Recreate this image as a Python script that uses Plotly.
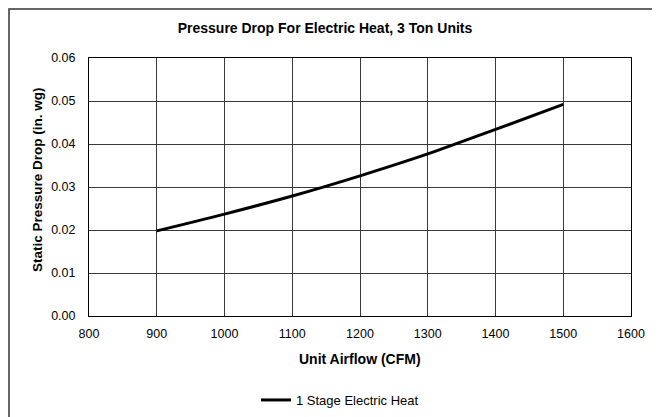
import plotly.graph_objects as go

airflow_cfm = [900, 1000, 1100, 1200, 1300, 1400, 1500]
pressure_drop = [0.0198, 0.0237, 0.0279, 0.0326, 0.0377, 0.0434, 0.0492]
series_name = "1 Stage Electric Heat"
x_ticks = [800, 900, 1000, 1100, 1200, 1300, 1400, 1500, 1600]
y_ticks = [0.00, 0.01, 0.02, 0.03, 0.04, 0.05, 0.06]

# page body has an 8px default margin; size the figure to fit the window
OFF = 8
W, H = 660 - OFF, 417 - OFF
# plot box in screen pixels: left 89, right 631, top 58, bottom 316
L = 89 - OFF
T = 58 - OFF
R = W - (631 - OFF)
B = H - (316 - OFF)
pw, ph = W - L - R, H - T - B

def px_x(p):
    return (p - OFF - L) / pw

def px_y(p):
    return (H - B - (p - OFF)) / ph

font = "Liberation Sans, Arial, sans-serif"

fig = go.Figure()
fig.add_trace(go.Scatter(
    x=airflow_cfm, y=pressure_drop, mode="lines", name=series_name,
    line=dict(color="black", width=3, shape="spline"),
))

fig.update_layout(
    width=W, height=H,
    margin=dict(l=L, r=R, t=T, b=B, autoexpand=False),
    paper_bgcolor="white", plot_bgcolor="white",
    font=dict(family=font, size=12.5, color="black"),
    title=dict(text="<b>Pressure Drop For Electric Heat, 3 Ton Units</b>",
               x=px_x(325), xref="paper", xanchor="center",
               y=1 - (28 - OFF) / H, yanchor="middle",
               font=dict(family=font, size=14, color="black")),
    showlegend=True,
    legend=dict(orientation="h", x=px_x(340), xanchor="center",
                y=px_y(400), yanchor="middle",
                font=dict(family=font, size=13, color="black"),
                bgcolor="rgba(0,0,0,0)", itemwidth=30),
    xaxis=dict(range=[800, 1600], tickvals=x_ticks,
               ticktext=[str(v) for v in x_ticks],
               showgrid=True, gridcolor="#3a3a3a", gridwidth=1,
               showline=True, linecolor="black", linewidth=1, mirror=True,
               zeroline=False, ticks="", ticklen=0, ticklabelstandoff=6,
               automargin=False),
    yaxis=dict(range=[0, 0.06], tickvals=y_ticks,
               ticktext=[f"{v:.2f}" for v in y_ticks],
               showgrid=True, gridcolor="#3a3a3a", gridwidth=1,
               showline=True, linecolor="black", linewidth=1, mirror=True,
               zeroline=False, ticks="", ticklen=0, ticklabelstandoff=10,
               automargin=False),
    annotations=[
        dict(text="<b>Unit Airflow (CFM)</b>", xref="paper", yref="paper",
             x=0.5, y=px_y(359), xanchor="center", yanchor="middle",
             showarrow=False, font=dict(family=font, size=14, color="black")),
        dict(text="<b>Static Pressure Drop (in. wg)</b>", xref="paper", yref="paper",
             x=px_x(37), y=px_y(180), xanchor="center", yanchor="middle",
             textangle=-90, showarrow=False,
             font=dict(family=font, size=13.5, color="black")),
    ],
    shapes=[dict(type="rect", xref="paper", yref="paper",
                 x0=px_x(OFF + 1), x1=px_x(720), y0=px_y(480), y1=px_y(OFF + 1),
                 line=dict(color="#333", width=1.5), layer="below")],
)

fig.write_html("out.html")
